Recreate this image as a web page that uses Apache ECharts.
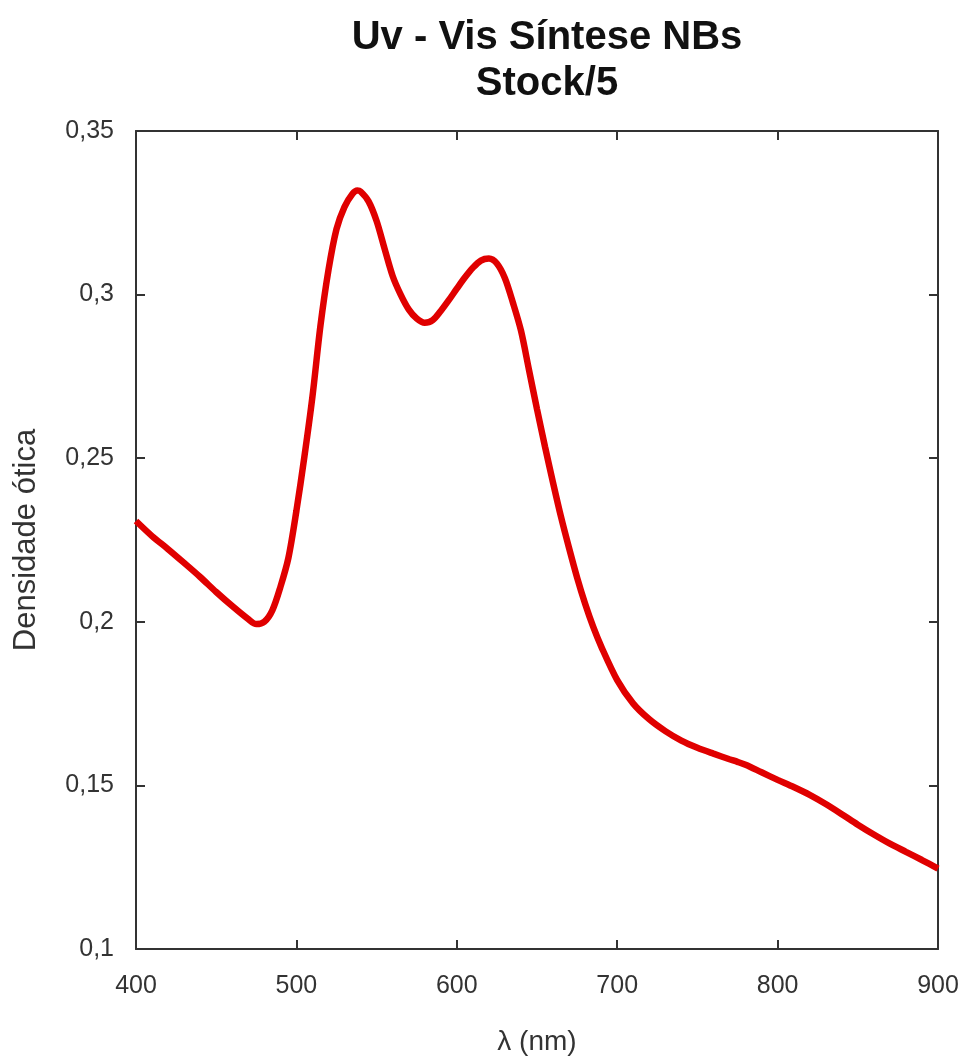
<!DOCTYPE html>
<html>
<head>
<meta charset="utf-8">
<script src="https://cdn.jsdelivr.net/npm/echarts@6/dist/echarts.min.js"></script>
<style>
  html, body { margin: 0; padding: 0; background: #fff; }
  #chart { width: 966px; height: 1064px; }
</style>
</head>
<body>
<div id="chart"></div>
<script>
// wavelength (nm) and optical density
var wavelength = [400, 410, 420, 430, 440, 450, 460, 470, 475, 480, 485, 490, 495,
    500, 505, 510, 515, 520, 525, 530, 535, 538, 540, 545, 550, 555, 560, 565, 570, 575,
    580, 585, 590, 595, 600, 605, 610, 615, 620, 625, 630, 635, 640, 645, 650, 655, 660, 665,
    670, 675, 680, 685, 690, 700, 710, 720, 730, 740, 750, 760, 770, 775, 780, 790,
    800, 810, 820, 830, 840, 850, 860, 870, 880, 890, 900];
var density = [0.2308, 0.2262, 0.2222, 0.2180, 0.2137, 0.2091, 0.2048, 0.2008, 0.1993, 0.2000, 0.2035, 0.2106, 0.2195,
    0.2339, 0.2505, 0.2688, 0.2905, 0.3075, 0.3200, 0.3268, 0.3308, 0.3318, 0.3315, 0.3285, 0.3225, 0.3140, 0.3057, 0.3000, 0.2955, 0.2927,
    0.2914, 0.2922, 0.2950, 0.2983, 0.3018, 0.3052, 0.3082, 0.3104, 0.3110, 0.3095, 0.3050, 0.2975, 0.2890, 0.2770, 0.2650, 0.2535, 0.2425, 0.2320,
    0.2225, 0.2135, 0.2055, 0.1985, 0.1925, 0.1822, 0.1750, 0.1702, 0.1666, 0.1637, 0.1615, 0.1597, 0.1580, 0.1572, 0.1563, 0.1540,
    0.1517, 0.1495, 0.1471, 0.1443, 0.1412, 0.1380, 0.1350, 0.1322, 0.1297, 0.1272, 0.1246];

var points = wavelength.map(function (w, i) { return [w, density[i]]; });

var axisCol = '#333';
var font = 'Liberation Sans, Arial, sans-serif';

function frameAxis(pos) {
    return {
        type: 'value', position: pos,
        axisLine: { show: true, onZero: false, lineStyle: { color: axisCol, width: 2 } },
        axisTick: { show: true, inside: true, length: 9, lineStyle: { color: axisCol, width: 2 } },
        axisLabel: { show: false },
        splitLine: { show: false }
    };
}

var xTop = frameAxis('top');
xTop.min = 400; xTop.max = 900; xTop.interval = 100;
var yRight = frameAxis('right');
yRight.min = 0.1; yRight.max = 0.35; yRight.interval = 0.05;

var option = {
    backgroundColor: '#fff',
    title: {
        text: 'Uv - Vis Síntese NBs\nStock/5',
        left: 542, top: 10, textAlign: 'center',
        textStyle: { fontFamily: font, fontSize: 40, fontWeight: 'bold', color: '#111', lineHeight: 46 }
    },
    grid: { left: 136, right: 28, top: 131, bottom: 115 },
    xAxis: [{
        type: 'value', min: 400, max: 900, interval: 100,
        name: 'λ (nm)', nameLocation: 'middle', nameGap: 79,
        nameTextStyle: { fontFamily: font, fontSize: 28, color: '#333' },
        axisLine: { show: true, onZero: false, lineStyle: { color: axisCol, width: 2 } },
        axisTick: { show: true, inside: true, length: 9, lineStyle: { color: axisCol, width: 2 } },
        axisLabel: { margin: 25, fontFamily: font, fontSize: 25, color: '#333' },
        splitLine: { show: false }
    }, xTop],
    yAxis: [{
        type: 'value', min: 0.1, max: 0.35, interval: 0.05,
        name: 'Densidade ótica', nameLocation: 'middle', nameGap: 94,
        nameTextStyle: { fontFamily: font, fontSize: 31, color: '#333' },
        axisLine: { show: true, onZero: false, lineStyle: { color: axisCol, width: 2 } },
        axisTick: { show: true, inside: true, length: 9, lineStyle: { color: axisCol, width: 2 } },
        axisLabel: {
            margin: 22, fontFamily: font, fontSize: 25, color: '#333',
            formatter: function (v) { return String(parseFloat(v.toFixed(2))).replace('.', ','); }
        },
        splitLine: { show: false }
    }, yRight],
    series: [{
        type: 'line',
        data: points,
        smooth: 0.3,
        showSymbol: false,
        symbol: 'none',
        lineStyle: { color: '#e00000', width: 6.5 },
        animation: false
    }]
};

var myChart = echarts.init(document.getElementById('chart'));
myChart.setOption(option);
</script>
</body>
</html>
